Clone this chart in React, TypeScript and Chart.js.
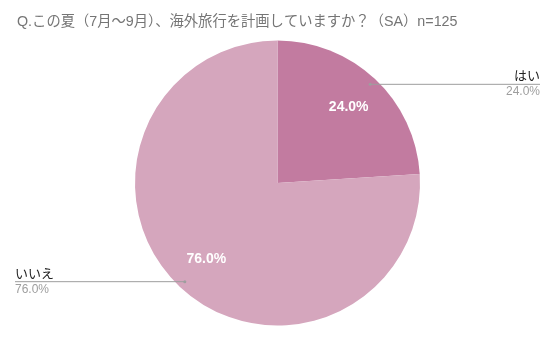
import React, { useEffect, useRef } from "react";
import { Chart, registerables } from "chart.js";

Chart.register(...registerables);

const TITLE = "Q.この夏（7月～9月）、海外旅行を計画していますか？（SA）n=125";
const categories = ["はい", "いいえ"];
const values = [24.0, 76.0];
const colors = ["#c27ba0", "#d5a6bd"];

const FONT = "Arial, 'Liberation Sans', 'Noto Sans CJK JP', sans-serif";

const labelPlugin = {
  id: "pieLabels",
  afterDatasetsDraw(chart: any) {
    const ctx = chart.ctx;
    const meta = chart.getDatasetMeta(0);
    const total = values.reduce((a, b) => a + b, 0);
    ctx.save();
    // title
    ctx.font = `14.3px ${FONT}`;
    ctx.fillStyle = "#757575";
    ctx.textAlign = "left";
    ctx.textBaseline = "alphabetic";
    ctx.fillText(TITLE, 17, 26);

    meta.data.forEach((arc: any, i: number) => {
      const { x, y, outerRadius, startAngle, endAngle } = arc.getProps(
        ["x", "y", "outerRadius", "startAngle", "endAngle"],
        true
      );
      const mid = (startAngle + endAngle) / 2;
      const pct = ((values[i] / total) * 100).toFixed(1) + "%";
      // inner label
      const ix = x + Math.cos(mid) * outerRadius * 0.73;
      const iy = y + Math.sin(mid) * outerRadius * 0.73;
      ctx.font = `bold 14px ${FONT}`;
      ctx.fillStyle = "#ffffff";
      ctx.textAlign = "center";
      ctx.textBaseline = "middle";
      ctx.fillText(pct, ix, iy);

      // leader line
      const sx = x + Math.cos(mid) * outerRadius * 0.95;
      const sy = y + Math.sin(mid) * outerRadius * 0.95;
      const right = Math.cos(mid) >= 0;
      const ex = right ? 540 : 15;
      ctx.strokeStyle = "#9e9e9e";
      ctx.lineWidth = 1;
      ctx.beginPath();
      ctx.moveTo(sx, sy);
      ctx.lineTo(ex, sy);
      ctx.stroke();
      ctx.fillStyle = "#9e9e9e";
      ctx.beginPath();
      ctx.arc(sx, sy, 1.5, 0, Math.PI * 2);
      ctx.fill();

      ctx.textAlign = right ? "right" : "left";
      ctx.textBaseline = "alphabetic";
      ctx.font = `13px ${FONT}`;
      ctx.fillStyle = "#222222";
      ctx.fillText(categories[i], ex, sy - 4);
      ctx.font = `12px ${FONT}`;
      ctx.fillStyle = "#9e9e9e";
      ctx.fillText(pct, ex, sy + 11);
    });
    ctx.restore();
  },
};

export default function App() {
  const ref = useRef<HTMLCanvasElement>(null);
  useEffect(() => {
    document.body.style.margin = "0";
    const chart = new Chart(ref.current!, {
      type: "pie",
      data: {
        labels: categories,
        datasets: [
          {
            data: values,
            backgroundColor: colors,
            borderWidth: 0,
          },
        ],
      },
      options: {
        animation: false,
        responsive: false,
        maintainAspectRatio: false,
        layout: { padding: { top: 40.5, bottom: 16.5, left: 135, right: 136 } },
        plugins: {
          legend: { display: false },
          title: { display: false },
          tooltip: { enabled: false },
        },
      },
      plugins: [labelPlugin],
    });
    return () => chart.destroy();
  }, []);
  return (
    <div style={{ width: 556, height: 342, background: "#fff" }}>
      <canvas ref={ref} width={556} height={342} style={{ display: "block" }} />
    </div>
  );
}
